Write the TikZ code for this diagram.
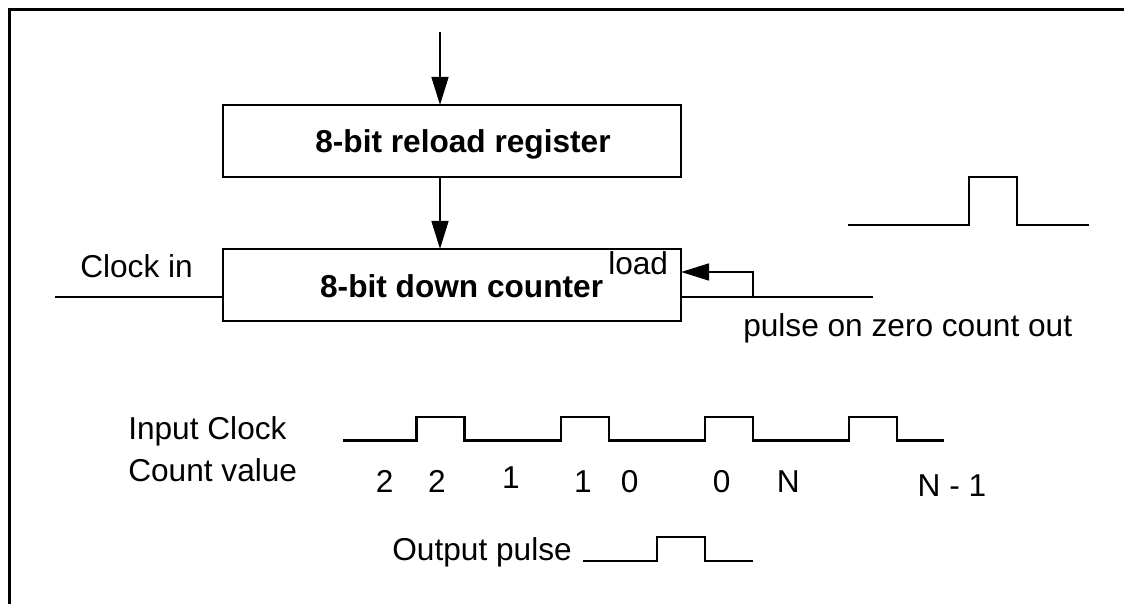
\documentclass[tikz,border=0pt]{standalone}
\usepackage{fontspec}
\setmainfont{Liberation Sans}
\usetikzlibrary{positioning,arrows.meta}
\newcommand\bigtxt{\fontsize{22.5}{27}\selectfont}

\begin{document}
\begin{tikzpicture}[every node/.style={font=\bigtxt, inner sep=0pt},
    blk/.style={draw, line width=1.9pt, outer sep=0pt, minimum width=11.45cm, minimum height=1.8cm},
    boldtxt/.style={font=\bigtxt\bfseries, anchor=base},
    wire/.style={line width=1.6pt},
    arr/.style={wire, -{Triangle[length=0.7cm, width=0.42cm]}}]
    \useasboundingbox (0,0) rectangle (28.1,15.1);
    % Frame
    \draw[line width=2.1pt] (0.2425,0) -- (0.2425,14.8625) -- (28.1,14.8625);

    % Reload register and counter
    \node[blk] (reg) at (11.3,11.575) {};
    \node[boldtxt] (regtxt) at (11.575,11.275) {8-bit reload register};
    \node[blk, below=1.8cm of reg] (cnt) {};
    \node[boldtxt] (cnttxt) at (11.54,7.65) {8-bit down counter};
    \node[anchor=base west] (ldlbl) at (15.2,8.225) {load};

    % Edges
    \coordinate (src) at (11,14.3);
    \draw[arr] (src) -- (src |- reg.north);
    \draw[arr] (reg.south -| src) -- (cnt.north -| src);

    % Clock in and zero count out
    \coordinate (clk) at (1.375,7.675);
    \node[anchor=base west] (clklbl) at (2,8.15) {Clock in};
    \draw[wire] (clk) -- (clk -| cnt.west);
    \coordinate (out) at (21.825,7.675);
    \coordinate (tap) at (18.825,7.675);
    \coordinate (ld) at (18.825,8.3);
    \draw[wire] (cnt.east |- out) -- (out);
    \draw[arr] (tap) -- (ld) -- (ld -| cnt.east);
    \node[anchor=base west] (outlbl) at (18.575,6.675) {pulse on zero count out};

    % Pulse shape
    \draw[wire] (21.2,9.475) -- (24.225,9.475) -- (24.225,10.675) -- (25.425,10.675) -- (25.425,9.475) -- (27.225,9.475);

    % Timing
    \node[anchor=base west] (inclk) at (3.2,4.1) {Input Clock};
    \node[anchor=base west] (cntval) at (3.2,3.06) {Count value};
    \draw[wire] (8.57,4.09) foreach \k in {0,...,3}{
        -- ({10.41+3.607*\k},4.09) -- ({10.41+3.607*\k},4.68)
        -- ({11.61+3.607*\k},4.68) -- ({11.61+3.607*\k},4.09)} -- (23.6,4.09);
    \foreach \x/\y/\t [count=\i] in {9.615/2.775/2, 10.925/2.775/2, 12.775/2.875/1, 14.575/2.775/1,
        15.74/2.775/0, 18.04/2.775/0, 19.71/2.775/N, 23.8/2.675/N - 1}
        \node[anchor=base] (cv\i) at (\x,\y) {\t};

    \node[anchor=base east] (outp) at (14.3,1.075) {Output pulse};
    \draw[wire] (14.58,1.075) -- (16.42,1.075) -- (16.42,1.6825) -- (17.62,1.6825) -- (17.62,1.075) -- (18.82,1.075);
\end{tikzpicture}
\end{document}
